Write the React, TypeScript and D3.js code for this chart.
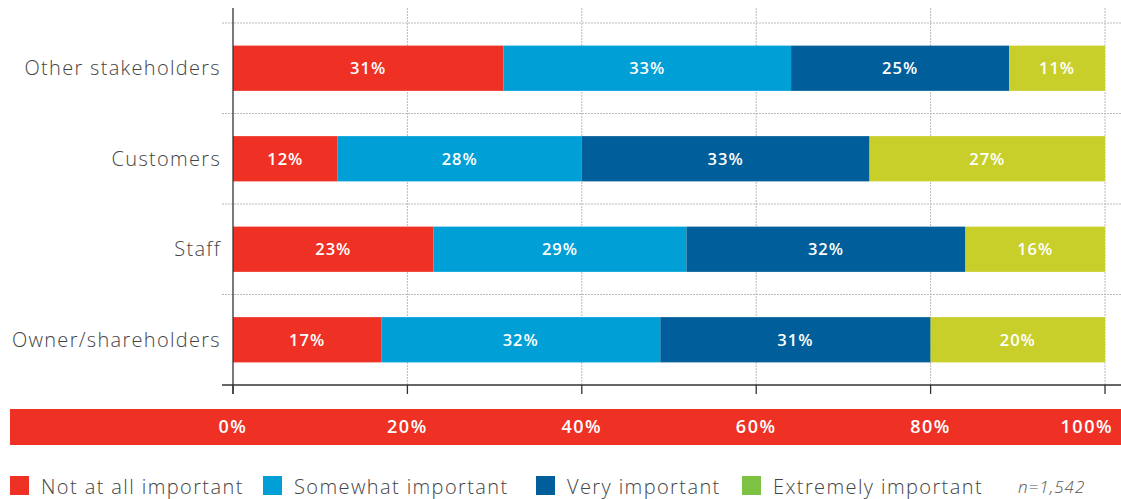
import React from "react";
import * as d3 from "d3";

const categories = ["Other stakeholders", "Customers", "Staff", "Owner/shareholders"];
const seriesNames = ["Not at all important", "Somewhat important", "Very important", "Extremely important"];
const notAtAll = [31, 12, 23, 17];
const somewhat = [33, 28, 29, 32];
const very = [25, 33, 32, 31];
const extremely = [11, 27, 16, 20];
const barColors = ["#EE3124", "#00A0D6", "#005E9A", "#C8CF2A"];
const legendColors = ["#EE3124", "#00A0D6", "#005E9A", "#7DC242"];
const ticks = [0, 20, 40, 60, 80, 100];
const sampleNote = "n=1,542";

const W = 1121;
const H = 499;
const FONT = "'Open Sans', Lato, sans-serif";

export default function App() {
  if (typeof document !== "undefined") document.body.style.margin = "0";
  const x = d3.scaleLinear().domain([0, 100]).range([233, 1105]);
  const y = d3.scaleBand<string>().domain(categories).range([23, 385]).paddingInner(0.5).paddingOuter(0.25);
  const step = y.step();
  const series = [notAtAll, somewhat, very, extremely];
  const rows = categories.map((c, i) => ({ c, vals: series.map((s) => s[i]) }));
  const stack = rows.map((r) => {
    let acc = 0;
    return r.vals.map((v, k) => {
      const s = { x0: acc, x1: acc + v, v, k };
      acc += v;
      return s;
    });
  });
  const gridYs = d3.range(categories.length).map((i) => 23 + i * step);
  const legendSq = [10, 263, 536, 742];
  return (
    <svg width={W} height={H} style={{ display: "block" }} fontFamily={FONT}>
      <rect width={W} height={H} fill="#fff" />
      {ticks.slice(1).map((t) => (
        <line key={"v" + t} x1={x(t)} x2={x(t)} y1={8} y2={385} stroke="#bbb" strokeWidth={1} strokeDasharray="2,1" />
      ))}
      {gridYs.map((gy, i) => (
        <line key={"h" + i} x1={222} x2={W} y1={gy} y2={gy} stroke="#bbb" strokeWidth={1} strokeDasharray="2,1" />
      ))}
      {rows.map((r, i) =>
        stack[i].map((s) => (
          <g key={r.c + s.k}>
            <rect x={x(s.x0)} y={y(r.c)} width={x(s.x1) - x(s.x0)} height={y.bandwidth()} fill={barColors[s.k]} />
            <text
              x={(x(s.x0) + x(s.x1)) / 2}
              y={(y(r.c) as number) + y.bandwidth() / 2}
              dy="0.35em"
              textAnchor="middle"
              fill="#fff"
              fontSize={16.5}
              fontWeight={600}
              letterSpacing={1}
            >
              {s.v}%
            </text>
          </g>
        ))
      )}
      {categories.map((c) => (
        <text key={c} x={221} y={(y(c) as number) + y.bandwidth() / 2} dy="0.35em" textAnchor="end" fill="#444" fontSize={20} fontWeight={300} letterSpacing={1.3}>
          {c}
        </text>
      ))}
      <line x1={233} x2={233} y1={8} y2={394} stroke="#333" strokeWidth={1.3} />
      <line x1={222} x2={W} y1={385} y2={385} stroke="#333" strokeWidth={1.3} />
      {ticks.map((t) => (
        <line key={"t" + t} x1={x(t)} x2={x(t)} y1={385} y2={394} stroke="#333" strokeWidth={1.3} />
      ))}
      <rect x={10} y={409} width={W - 10} height={36} fill="#EE3124" />
      {ticks.map((t, i) => {
        const last = i === ticks.length - 1;
        return (
          <text
            key={"tl" + t}
            x={last ? 1113 : x(t)}
            y={427}
            dy="0.35em"
            textAnchor={last ? "end" : "middle"}
            fill="#fff"
            fontSize={18}
            fontWeight={600}
            letterSpacing={1.5}
          >
            {t}%
          </text>
        );
      })}
      {seriesNames.map((n, i) => (
        <g key={n}>
          <rect x={legendSq[i]} y={476} width={19} height={19} fill={legendColors[i]} />
          <text x={legendSq[i] + 31} y={487} dy="0.35em" fill="#444" fontSize={20} fontWeight={300} letterSpacing={1.4}>
            {n}
          </text>
        </g>
      ))}
      <text x={1018} y={487} dy="0.35em" fill="#555" fontSize={17} fontWeight={300} fontStyle="italic" letterSpacing={1}>
        {sampleNote}
      </text>
    </svg>
  );
}
